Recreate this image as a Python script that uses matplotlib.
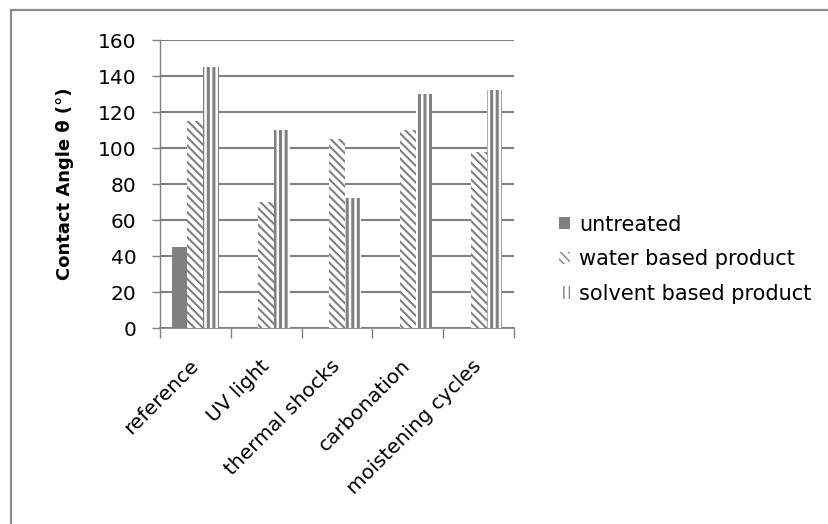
import matplotlib
matplotlib.use("Agg")
import matplotlib.pyplot as plt
from matplotlib.patches import Patch
from matplotlib.lines import Line2D
import numpy as np

plt.rcParams['font.family'] = ['DejaVu Sans']

categories = ["reference", "UV light", "thermal shocks", "carbonation", "moistening cycles"]
untreated = [45, 0, 0, 0, 0]
water_based = [115, 70, 105, 110, 98]
solvent_based = [145, 110, 72, 130, 132]
series_names = ["untreated", "water based product", "solvent based product"]
y_ticks = [0, 20, 40, 60, 80, 100, 120, 140, 160]

GRAY = "#808080"
FS = 14.5

fig = plt.figure(figsize=(8.29, 5.24), dpi=100)
ax = fig.add_axes([160 / 829, 1 - 328 / 524, 354 / 829, 288 / 524])

x = np.arange(len(categories))
w = 0.225

ax.bar(x - w, untreated, width=w, color=GRAY, linewidth=0, zorder=3)
with plt.rc_context({'hatch.linewidth': 1.5}):
    ax.bar(x, water_based, width=w, color="white", edgecolor=GRAY,
           hatch="\\\\\\\\", linewidth=0, zorder=3)
with plt.rc_context({'hatch.linewidth': 2.2}):
    ax.bar(x + w, solvent_based, width=w, color="white", edgecolor=GRAY,
           hatch="|||", linewidth=0, zorder=3)

ax.set_ylim(0, 160)
ax.set_xlim(-0.5, len(categories) - 0.5)
ax.set_yticks(y_ticks)
ax.yaxis.grid(True, color=GRAY, linewidth=1.5, zorder=0)
ax.set_axisbelow(True)

# category boundaries carry the tick marks, centres carry the labels
ax.set_xticks(np.arange(-0.5, len(categories), 1.0))
ax.set_xticklabels([])
ax.set_xticks(x, minor=True)
ax.set_xticklabels(categories, minor=True, rotation=45, ha="right",
                   va="center", rotation_mode="anchor", fontsize=FS)
ax.tick_params(axis="x", which="minor", length=0, pad=25)
ax.tick_params(axis="x", which="major", length=7, color=GRAY, width=1)
ax.tick_params(axis="y", length=6, color=GRAY, width=1, labelsize=FS, pad=11)

for side in ("top", "right"):
    ax.spines[side].set_visible(False)
ax.spines["left"].set_color(GRAY)
ax.spines["bottom"].set_color(GRAY)
ax.spines["left"].set_linewidth(1.0)
ax.spines["bottom"].set_linewidth(1.2)

ax.set_ylabel("Contact Angle θ (°)", fontsize=13, fontweight="bold", labelpad=17)

handles = [
    Patch(facecolor=GRAY, linewidth=0),
    Patch(facecolor="white", edgecolor=GRAY, hatch="\\\\\\\\", linewidth=0),
    Patch(facecolor="white", edgecolor=GRAY, hatch="|||", linewidth=0),
]
leg = fig.legend(handles, series_names, loc="upper left",
                 bbox_to_anchor=(540 / 829, 1 - 196 / 524), frameon=False,
                 fontsize=15, handlelength=0.52, handleheight=0.52,
                 handletextpad=0.45, labelspacing=0.70)

# outer chart frame (top and left edges)
fig.add_artist(Line2D([11 / 829, 11 / 829], [0, 1 - 10 / 524],
                      transform=fig.transFigure, color="#8c8c8c", linewidth=1.6))
fig.add_artist(Line2D([11 / 829, 1], [1 - 10 / 524, 1 - 10 / 524],
                      transform=fig.transFigure, color="#8c8c8c", linewidth=1.6))

fig.savefig("out.png", dpi=100)
